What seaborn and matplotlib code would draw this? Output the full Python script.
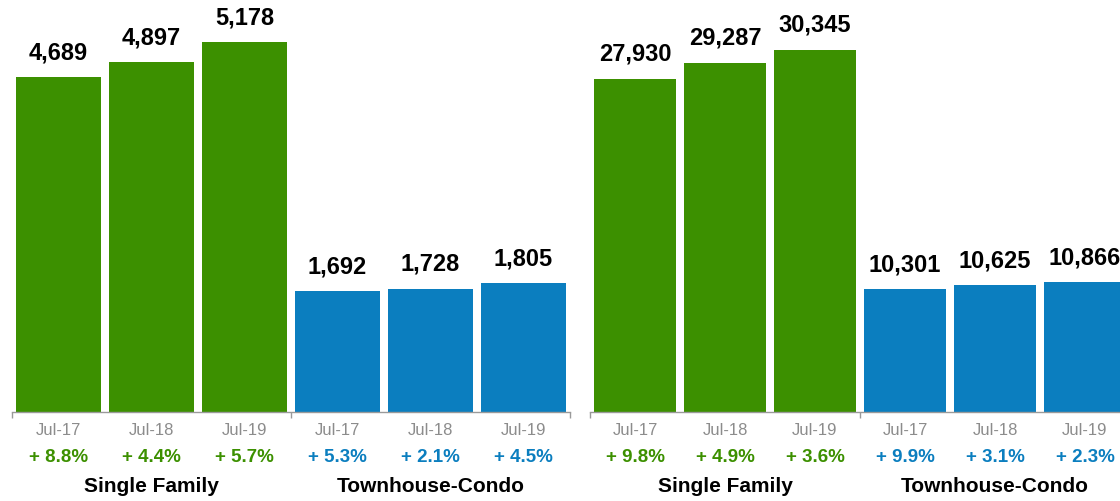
import matplotlib
matplotlib.use("Agg")
import matplotlib.pyplot as plt
import pandas as pd
import seaborn as sns

periods = ["Jul-17", "Jul-18", "Jul-19"]
segments = ["Single Family", "Townhouse-Condo"]

left_sf = [4689, 4897, 5178]
left_tc = [1692, 1728, 1805]
left_sf_pct = [8.8, 4.4, 5.7]
left_tc_pct = [5.3, 2.1, 4.5]

right_sf = [27930, 29287, 30345]
right_tc = [10301, 10625, 10866]
right_sf_pct = [9.8, 4.9, 3.6]
right_tc_pct = [9.9, 3.1, 2.3]

GREEN = "#3c9000"
BLUE = "#0b7ebf"
GRAY = "#8c8c8c"

sns.set_style("white")
plt.rcParams["font.family"] = ["Liberation Sans", "DejaVu Sans"]

W, H = 1120, 501
fig = plt.figure(figsize=(W / 100, H / 100), dpi=100)
PX = 0.72  # points per pixel at dpi 100


def build(sf, tc, sf_pct, tc_pct):
    rows = []
    for seg, vals, pcts in [(segments[0], sf, sf_pct), (segments[1], tc, tc_pct)]:
        for p, v, c in zip(periods, vals, pcts):
            rows.append({"slot": f"{seg}|{p}", "segment": seg, "period": p,
                         "value": v, "pct": c})
    return pd.DataFrame(rows)


def panel(x0, x1, ymax, df):
    base = 412
    ax = fig.add_axes([x0 / W, (H - base) / H, (x1 - x0) / W, base / H])
    sns.barplot(data=df, x="slot", y="value", hue="segment",
                palette={segments[0]: GREEN, segments[1]: BLUE},
                dodge=False, width=0.91, legend=False, ax=ax, saturation=1,
                linewidth=0)
    ax.set_xlim(-0.5, 5.5)
    ax.set_ylim(0, ymax)
    for s in ["top", "right", "left"]:
        ax.spines[s].set_visible(False)
    ax.spines["bottom"].set_color("#9a9a9a")
    ax.spines["bottom"].set_linewidth(1)
    ax.set_yticks([])
    ax.set_xticks([-0.5, 2.5, 5.5])
    ax.set_xticklabels([])
    ax.tick_params(axis="x", bottom=True, direction="out", length=6 * PX,
                   color="#9a9a9a", width=1)
    ax.set_xlabel("")
    ax.set_ylabel("")

    for i, r in df.iterrows():
        col = GREEN if r["segment"] == segments[0] else BLUE
        ax.annotate(f"{r['value']:,}", (i, r["value"]), xytext=(0, 18 * PX),
                    textcoords="offset points", ha="center", va="baseline",
                    fontsize=17, fontweight="bold", color="black",
                    annotation_clip=False)
        ax.annotate(r["period"], (i, 0), xycoords=("data", "axes fraction"),
                    xytext=(0, -23 * PX), textcoords="offset points",
                    ha="center", va="baseline", fontsize=12, color=GRAY,
                    annotation_clip=False)
        ax.annotate(f"+ {r['pct']:.1f}%", (i, 0),
                    xycoords=("data", "axes fraction"),
                    xytext=(0, -50 * PX), textcoords="offset points",
                    ha="center", va="baseline", fontsize=13.5,
                    fontweight="bold", color=col, annotation_clip=False)
    for j, seg in enumerate(segments):
        ax.annotate(seg, (1 + 3 * j, 0), xycoords=("data", "axes fraction"),
                    xytext=(0, -80 * PX), textcoords="offset points",
                    ha="center", va="baseline", fontsize=15,
                    fontweight="bold", color="black", annotation_clip=False)
    return ax


panel(12, 570, 5770, build(left_sf, left_tc, left_sf_pct, left_tc_pct))
panel(590, 1130, 34535, build(right_sf, right_tc, right_sf_pct, right_tc_pct))

fig.savefig("out.png", dpi=100)
